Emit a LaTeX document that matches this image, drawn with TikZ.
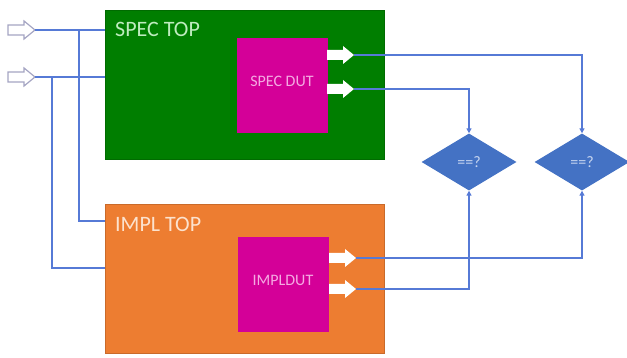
\documentclass[tikz,border=0pt]{standalone}
\usepackage{fontspec}
\setmainfont{Carlito}
\usetikzlibrary{shapes.geometric,arrows.meta}

\definecolor{topgreen}{RGB}{0,126,0}
\definecolor{topgreentext}{RGB}{190,236,190}
\definecolor{toporange}{RGB}{237,125,49}
\definecolor{toporangetext}{RGB}{252,226,206}
\definecolor{dutmagenta}{RGB}{212,0,152}
\definecolor{duttext}{RGB}{244,170,226}
\definecolor{cmpblue}{RGB}{68,114,196}
\definecolor{cmptext}{RGB}{200,214,240}
\definecolor{wire}{RGB}{86,122,214}
\definecolor{inoutline}{RGB}{165,165,195}

\tikzset{
  topbox/.style={draw=#1!85!black, line width=0.6pt, fill=#1, minimum width=279pt, minimum height=149pt, inner sep=0pt, anchor=north west},
  dutbox/.style={fill=dutmagenta, minimum width=91pt, minimum height=95pt, inner sep=0pt, anchor=north west},
  toplabel/.style={font=\fontsize{22}{22}\selectfont, anchor=base west, inner sep=0pt},
  dutlabel/.style={font=\fontsize{16}{16}\selectfont, text=duttext, inner sep=0pt},
  cmp/.style={diamond, fill=cmpblue, minimum width=95pt, minimum height=57pt, inner sep=0pt,
              font=\fontsize{16}{16}\selectfont, text=cmptext},
  wireline/.style={draw=wire, line width=1.3pt},
  wirearrow/.style={wireline, -{Triangle[length=5pt,width=5pt]}},
  outport/.style={fill=white, draw=none},
  inport/.style={fill=white, draw=inoutline, line width=1.2pt},
  blockarrow/.pic={
    \path[pic actions] (0,-5) -- (16,-5) -- (16,-9) -- (27,0) -- (16,9) -- (16,5) -- (0,5) -- cycle;
    \coordinate (-tip) at (27,0);
  }
}

\begin{document}
\begin{tikzpicture}[x=1pt, y=-1pt]
  \useasboundingbox (0,0) rectangle (627,358);

  % the two top-level wrappers
  \node[topbox=topgreen] (spectop) at (105,10) {};
  \node[topbox=toporange] (impltop) at (105,204) {};
  \node[toplabel, text=topgreentext] (speclabel) at (115,37) {SPEC TOP};
  \node[toplabel, text=toporangetext] (impllabel) at (115,232) {IMPL TOP};

  % the designs under test
  \node[dutbox] (specdut) at (237,38) {};
  \node[dutbox] (impldut) at (238,237) {};
  \node[dutlabel] (specdutlabel) at (282,81) {SPEC DUT};
  \node[dutlabel] (impldutlabel) at (283,280) {IMPLDUT};

  % output ports of each design
  \pic[outport] (so1) at (327,55) {blockarrow};
  \pic[outport] (so2) at (327,89) {blockarrow};
  \pic[outport] (io1) at (329,258) {blockarrow};
  \pic[outport] (io2) at (329,289) {blockarrow};

  % shared stimulus inputs
  \pic[inport] (in1) at (8,30) {blockarrow};
  \pic[inport] (in2) at (8,77) {blockarrow};

  % comparators
  \node[cmp] (cmpa) at (469,162) {==?};
  \node[cmp] (cmpb) at (582,162) {==?};

  % stimulus fan-out
  \coordinate (j1) at (79,30);
  \coordinate (j2) at (52,77);
  \coordinate (ipa) at (105,221);
  \coordinate (ipb) at (105,268);
  \draw[wireline] (in1-tip) -- (spectop.west |- in1-tip);
  \draw[wireline] (in2-tip) -- (spectop.west |- in2-tip);
  \draw[wireline] (j1) |- (ipa);
  \draw[wireline] (j2) |- (ipb);

  % outputs into the comparators
  \draw[wirearrow] (so1-tip) -| (cmpb.north);
  \draw[wirearrow] (so2-tip) -| (cmpa.north);
  \draw[wirearrow] (io1-tip) -| (cmpb.south);
  \draw[wirearrow] (io2-tip) -| (cmpa.south);
\end{tikzpicture}
\end{document}
